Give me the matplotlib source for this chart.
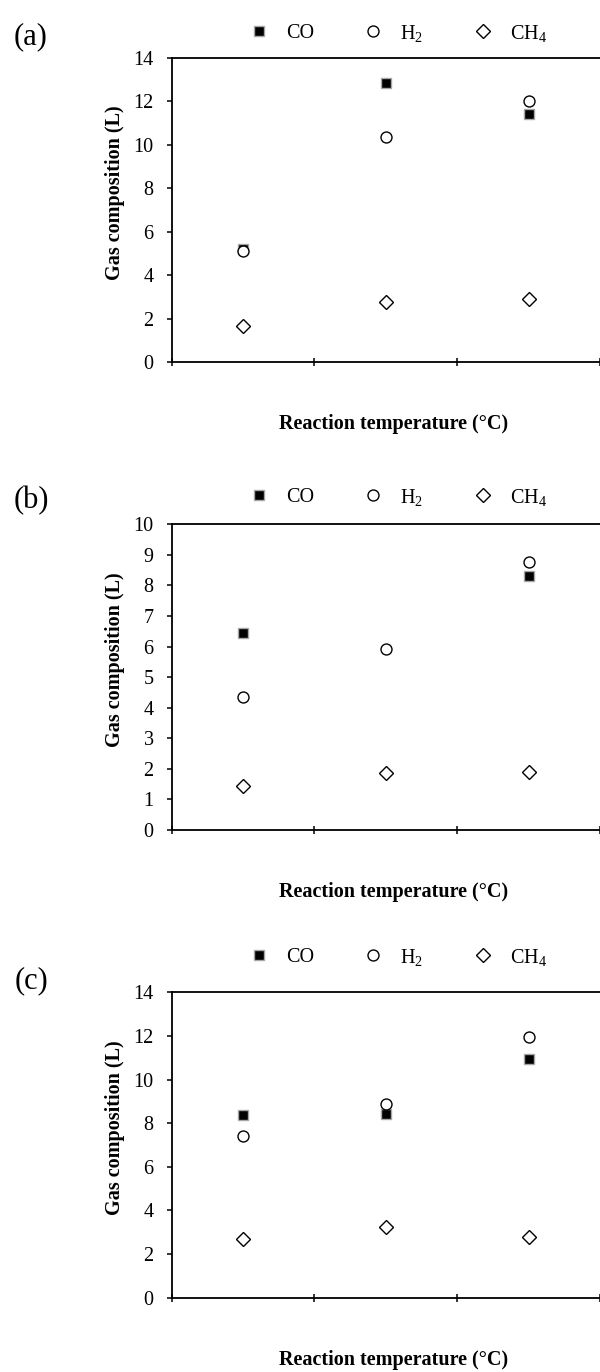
import numpy as np
import matplotlib
matplotlib.use("Agg")
import matplotlib.pyplot as plt
from matplotlib.lines import Line2D

plt.rcParams['font.family'] = ['Liberation Serif', 'DejaVu Serif']
plt.rcParams['mathtext.fontset'] = 'custom'
plt.rcParams['mathtext.rm'] = 'Liberation Serif'
plt.rcParams['mathtext.it'] = 'Liberation Serif:italic'
plt.rcParams['mathtext.bf'] = 'Liberation Serif:bold'

# Category positions (three reaction temperatures, unlabeled)
positions = [0.5, 1.5, 2.5]

# Panel (a)
co_a = [5.2, 12.84, 11.41]
h2_a = [5.13, 10.34, 12.0]
ch4_a = [1.67, 2.78, 2.89]

# Panel (b)
co_b = [6.45, np.nan, 8.30]
h2_b = [4.35, 5.91, 8.76]
ch4_b = [1.44, 1.87, 1.91]

# Panel (c)
co_c = [8.37, 8.43, 10.92]
h2_c = [7.43, 8.87, 11.93]
ch4_c = [2.68, 3.26, 2.77]

panel_labels = ['(a)', '(b)', '(c)']
y_limits = [14, 10, 14]
y_steps = [2, 1, 2]
series_names = ['CO', 'H$_2$', 'CH$_4$']
xlabel_text = 'Reaction temperature (°C)'
ylabel_text = 'Gas composition (L)'

panels = [(co_a, h2_a, ch4_a), (co_b, h2_b, ch4_b), (co_c, h2_c, ch4_c)]

W, H = 600, 1372
fig = plt.figure(figsize=(W / 100, H / 100), dpi=100)

# pixel geometry of each axes: (left, top, bottom)
geom = [(171.5, 58.0, 362.0), (171.5, 524.3, 830.0), (171.5, 992.3, 1297.7)]
legend_y = [33, 497, 957]
label_pos = [(31, 37), (31, 501), (31, 981)]
tick_px = 144.0

sq_style = dict(marker='s', ms=7.4, mfc='black', mec='#a6a6a6', mew=1.0, ls='none')
ci_style = dict(marker='o', ms=7.9, mfc='white', mec='black', mew=1.0, ls='none')
di_style = dict(marker='D', ms=6.7, mfc='white', mec='black', mew=1.0, ls='none')

fs = 14.5

for i, (co, h2, ch4) in enumerate(panels):
    left, top, bottom = geom[i]
    ax = fig.add_axes([left / W, 1 - bottom / H, (W - left) / W, (bottom - top) / H])
    ax.plot(positions, co, **sq_style, label=series_names[0], zorder=3)
    ax.plot(positions, h2, **ci_style, label=series_names[1], zorder=4)
    ax.plot(positions, ch4, **di_style, label=series_names[2], zorder=4)

    ax.set_xlim(0, (W - left) / tick_px)
    ax.set_ylim(0, y_limits[i])
    ax.set_xticks([0, 1, 2, 3])
    ax.set_xticklabels([])
    ax.set_yticks(np.arange(0, y_limits[i] + 0.01, y_steps[i]))
    ax.tick_params(axis='y', direction='out', length=3.8, width=1.1,
                   labelsize=fs, pad=9)
    ax.tick_params(axis='x', direction='inout', length=6, width=1.1)
    for s in ['left', 'top', 'bottom']:
        ax.spines[s].set_linewidth(1.3)
    ax.spines['right'].set_visible(False)

    # axis titles
    fig.text(394 / W, 1 - (bottom + 62) / H, xlabel_text, ha='center', va='center',
             fontsize=fs, fontweight='bold')
    fig.text(115 / W, 1 - ((top + bottom) / 2 - 17) / H, ylabel_text, ha='center',
             va='center', rotation=90, fontsize=fs, fontweight='bold')

    # panel letter
    fig.text(label_pos[i][0] / W, 1 - label_pos[i][1] / H, panel_labels[i],
             ha='center', va='center', fontsize=22)

    handles = [Line2D([], [], **sq_style), Line2D([], [], **ci_style),
               Line2D([], [], **di_style)]
    fig.legend(handles, series_names, ncol=3, loc='center left',
               bbox_to_anchor=(248.5 / W, 1 - legend_y[i] / H),
               frameon=False, fontsize=fs, handlelength=1.0, handletextpad=0.85,
               columnspacing=2.45, borderpad=0, borderaxespad=0)

fig.savefig('out.png', dpi=100)
